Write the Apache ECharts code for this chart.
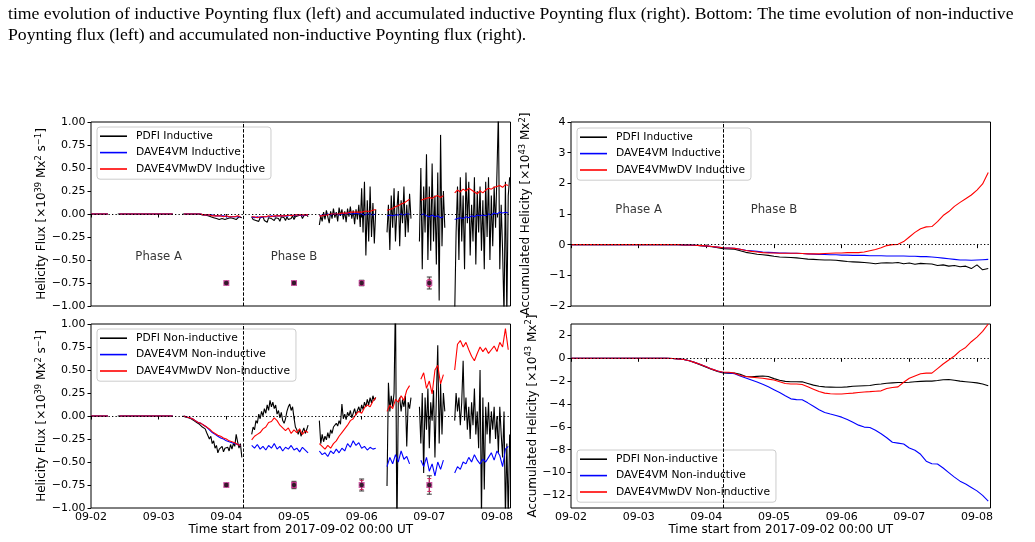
<!DOCTYPE html>
<html>
<head>
<meta charset="utf-8">
<script src="https://cdn.jsdelivr.net/npm/echarts@6/dist/echarts.min.js"></script>
<style>
html, body { margin: 0; padding: 0; background: #fff; }
#main { width: 1035px; height: 542px; }
</style>
</head>
<body>
<div id="main"></div>
<script>
// time is in hours from 2017-09-02 00:00 UT, x axes in days
const dayTicks = [0, 1, 2, 3, 4, 5, 6];
const dayLabels = ['09-02', '09-03', '09-04', '09-05', '09-06', '09-07', '09-08'];
const phaseBoundary = 2.25; // 09-04 06:00
const accIndTicks = [-2, -1, 0, 1, 2, 3, 4];
const accNonTicks = [-12, -10, -8, -6, -4, -2, 0, 2];

// start hour of each data segment (gaps between them)
const halfStarts = [0, 9.5, 32.5, 57, 81, 105, 116.5, 129];   // 30 min cadence (PDFI)
const hourStarts = [0, 10, 33, 57, 81, 105, 117, 129];        // 1 h cadence (DAVE4VM*)

// ---- top left: inductive helicity flux ----
const pdfiInd = [
  [0,0,0,0,0,0,0,0,0,0,0,0,0],
  [0,0,0,0,0,0,0,0,0,0,0,0,0,0,0,0,0,0,0,0,0,0,0,0,0,0,0,0,0,0,0,0,0,0,0,0,0,0,0,0],
  [0,0,0,0,0,0,0,0,0,-0.01,0,-0.01,0,-0.01,-0.01,0,-0.01,-0.01,-0.02,-0.01,
   -0.03,-0.02,-0.04,-0.03,-0.05,-0.03,-0.06,-0.04,-0.05,-0.03,-0.06,-0.04,-0.05,-0.07,-0.04,-0.06,-0.05,-0.04,-0.06,-0.05,-0.03,-0.05,-0.04],
  [-0.03,-0.06,-0.04,-0.07,-0.05,-0.08,-0.04,-0.06,-0.03,-0.07,-0.05,-0.09,-0.04,-0.06,-0.05,-0.03,-0.07,-0.04,-0.06,-0.05,
   -0.08,-0.03,-0.05,-0.04,-0.07,-0.03,-0.06,-0.04,-0.05,-0.02,-0.06,-0.03,-0.05,-0.02,-0.04,-0.01,-0.05,-0.02,-0.04,-0.01,-0.03],
  [-0.12,-0.02,-0.08,0.02,-0.06,0.04,-0.03,-0.1,0.03,-0.05,0.06,-0.04,0.02,-0.08,0.07,-0.02,0.05,-0.06,0.03,-0.09,
   0.06,-0.03,0.08,-0.05,0.04,-0.11,0.05,-0.06,0.1,-0.14,0.28,-0.2,0.35,-0.45,0.15,-0.3,0.3,-0.25,0.12,-0.32,0.05],
  [-0.2,0.1,-0.39,0.2,-0.15,0.28,-0.3,0.05,0.25,-0.35,0.15,-0.1,0.3,-0.25,0.1,-0.2,0.22,-0.05],
  [-0.3,0.5,-0.6,0.3,-0.2,0.65,-0.5,0.3,-0.4,0.55,-0.3,0.2,-0.55,0.45,-0.94,0.86,-0.35,0.25,-0.15],
  [-1.1,-0.2,0.3,-0.5,0.4,-0.3,0.2,-0.6,0.45,-0.1,0.35,-0.45,0.1,-0.3,0.4,-0.55,0.25,-0.2,0.3,-0.4,
   0.15,-0.6,0.35,-0.25,0.4,-0.5,0.2,-0.35,0.3,-0.15,0.45,1.1,-0.6,0.1,-0.4,-1.1,0.35,-1.1,0.2,0.4]
];
const daveInd = [
  [0,0,0,0,0,0,0],
  [0,0,0,0,0,0,0,0,0,0,0,0,0,0,0,0,0,0,0,0],
  [0,0,0,0,0,0,0,-0.01,-0.01,-0.01,-0.01,-0.02,-0.02,-0.02,-0.02,-0.03,-0.03,-0.03,-0.03,-0.03,-0.03],
  [-0.03,-0.04,-0.03,-0.04,-0.03,-0.03,-0.03,-0.02,-0.03,-0.02,-0.02,-0.02,-0.02,-0.02,-0.01,-0.02,-0.01,-0.01,-0.02,-0.01,-0.01],
  [-0.02,-0.01,-0.01,0,-0.01,0,0,-0.01,0,0,0.01,0,0,0.01,0,0,-0.01,0,0,-0.01,0],
  [-0.02,-0.01,-0.02,-0.01,-0.01,0,-0.01,0,0],
  [-0.01,0,-0.02,-0.03,-0.01,-0.03,-0.02,-0.04,-0.03],
  [-0.06,-0.05,-0.04,-0.05,-0.03,-0.04,-0.02,-0.03,-0.01,-0.02,-0.01,-0.02,0,-0.01,0.01,0,0.02,0.01,0.02,0.01]
];
const dvInd = [
  [0,0,0,0,0,0,0],
  [0,0,0,0,0,0,0,0,0,0,0,0,0,0,0,0,0,0,0,0],
  [0,0,0,0,0,0,0,-0.01,-0.01,-0.01,-0.02,-0.02,-0.02,-0.02,-0.03,-0.02,-0.03,-0.03,-0.03,-0.02,-0.03],
  [-0.03,-0.03,-0.04,-0.03,-0.03,-0.03,-0.02,-0.03,-0.02,-0.02,-0.02,-0.02,-0.02,-0.01,-0.02,-0.01,-0.01,-0.01,-0.01,-0.01,-0.01],
  [-0.02,-0.02,-0.01,-0.01,0,0,0,0,0.01,0.01,0.01,0.02,0.02,0.02,0.02,0.02,0.03,0.03,0.03,0.04,0.05],
  [0.04,0.05,0.06,0.08,0.09,0.11,0.12,0.14,0.16],
  [0.15,0.16,0.17,0.18,0.17,0.19,0.2,0.18,0.2],
  [0.23,0.26,0.24,0.27,0.25,0.28,0.26,0.24,0.22,0.25,0.23,0.26,0.28,0.27,0.29,0.3,0.31,0.29,0.32,0.31]
];

// ---- bottom left: non-inductive helicity flux ----
const pdfiNon = [
  [0,0,0,0,0,0,0,0,0,0,0,0,0],
  [0,0,0,0,0,0,0,0,0,0,0,0,0,0,0,0,0,0,0,0,0,0,0,0,0,0,0,0,0,0,0,0,0,0,0,0,0,0,0,0],
  [0,0,-0.01,-0.02,-0.02,-0.03,-0.03,-0.04,-0.05,-0.06,-0.07,-0.06,-0.09,-0.1,-0.12,-0.11,
   -0.14,-0.18,-0.2,-0.25,-0.22,-0.3,-0.27,-0.35,-0.32,-0.4,-0.36,-0.38,-0.33,-0.39,-0.35,-0.37,
   -0.34,-0.38,-0.31,-0.36,-0.3,-0.33,-0.2,-0.28,-0.35,-0.3,-0.45],
  [-0.2,-0.12,-0.15,-0.05,-0.08,0.02,-0.03,0.05,0,0.08,0.03,0.12,0.06,0.17,0.1,0.15,
   0.08,0.12,0.02,0.06,-0.02,0.04,-0.05,-0.08,-0.03,0.05,0.1,0.13,0.06,0.1,-0.02,-0.12,
   -0.15,-0.2,-0.14,-0.22,-0.17,-0.13,-0.19,-0.15,-0.1],
  [-0.05,-0.3,-0.2,-0.28,-0.22,-0.26,-0.18,-0.24,-0.15,-0.19,-0.12,-0.14,-0.08,-0.11,-0.05,-0.09,
   0.13,-0.03,0.02,-0.04,0.04,0,0.06,-0.02,0.03,0.08,0.01,0.06,0.1,0.04,0.12,0.07,
   0.15,0.1,0.18,0.12,0.2,0.14,0.22,0.17,0.2],
  [-0.76,0.36,0.05,0.22,0.1,0.25,1.3,-1.3,0.15,0.2,0.05,0.18,0.1,0.22,-0.33,0.15,0.08,0.2],
  [0.1,-0.3,0.25,-0.62,0.2,-0.15,0.3,-0.35,0.15,-0.05,0.28,-0.45,0.2,0.77,-0.3,0.35,-0.2,0.25,0.05],
  [-0.05,0.25,0.05,0.2,-0.1,0.15,0.6,-0.05,0.2,-0.15,0.1,-0.25,0.15,-0.1,0.3,-0.2,0.05,-0.35,0.5,-1.1,
   0.2,-0.8,0.1,-0.2,0.15,-0.3,0.05,-0.15,0.1,-0.25,0,-0.4,0.1,-0.2,-0.45,0.05,-1.1,-0.3,-1.1,-0.2]
];
const daveNon = [
  [0,0,0,0,0,0,0],
  [0,0,0,0,0,0,0,0,0,0,0,0,0,0,0,0,0,0,0,0],
  [0,-0.01,-0.02,-0.03,-0.05,-0.07,-0.08,-0.1,-0.12,-0.15,-0.18,-0.2,-0.22,-0.24,-0.25,-0.27,-0.28,-0.29,-0.3,-0.31,-0.32],
  [-0.32,-0.35,-0.31,-0.36,-0.33,-0.37,-0.32,-0.35,-0.3,-0.36,-0.33,-0.38,-0.34,-0.36,-0.32,-0.37,-0.35,-0.39,-0.34,-0.37,-0.4],
  [-0.38,-0.42,-0.4,-0.44,-0.38,-0.41,-0.36,-0.4,-0.35,-0.38,-0.3,-0.34,-0.27,-0.32,-0.29,-0.35,-0.33,-0.37,-0.34,-0.36,-0.35],
  [-0.55,-0.45,-0.52,-0.42,-0.5,-0.38,-0.47,-0.44,-0.52],
  [-0.48,-0.55,-0.45,-0.6,-0.52,-0.65,-0.5,-0.58,-0.48],
  [-0.62,-0.55,-0.58,-0.5,-0.52,-0.45,-0.5,-0.42,-0.48,-0.52,-0.47,-0.5,-0.45,-0.4,-0.48,-0.38,-0.43,-0.55,-0.36,-0.33]
];
const dvNon = [
  [0,0,0,0,0,0,0],
  [0,0,0,0,0,0,0,0,0,0,0,0,0,0,0,0,0,0,0,0],
  [0,-0.01,-0.02,-0.03,-0.05,-0.07,-0.08,-0.1,-0.12,-0.14,-0.17,-0.19,-0.21,-0.22,-0.24,-0.25,-0.27,-0.28,-0.29,-0.31,-0.32],
  [-0.26,-0.22,-0.2,-0.18,-0.14,-0.12,-0.07,-0.06,-0.02,-0.05,-0.1,-0.13,-0.16,-0.13,-0.19,-0.15,-0.18,-0.14,-0.2,-0.16,-0.18],
  [-0.3,-0.33,-0.36,-0.32,-0.35,-0.3,-0.27,-0.22,-0.18,-0.14,-0.1,-0.05,-0.03,0.02,0.05,0.03,0.09,0.12,0.1,0.16,0.2],
  [0.05,0.12,0.08,0.18,0.15,0.22,0.17,0.28,0.33],
  [0.4,0.47,0.3,0.38,0.24,0.5,0.55,0.35,0.45],
  [0.5,0.78,0.82,0.75,0.8,0.72,0.65,0.6,0.68,0.75,0.7,0.74,0.68,0.72,0.76,0.7,0.8,0.75,0.95,0.72]
];

// uncertainty markers at -0.75
const errDays = [2, 3, 4, 5];
const errLevel = [-0.75, -0.75, -0.75, -0.75];
const errPdfiInd = [0.01, 0.015, 0.03, 0.065];
const errDvInd = [0.005, 0.01, 0.02, 0.04];
const errPdfiNon = [0.015, 0.04, 0.065, 0.1];
const errDvNon = [0.01, 0.03, 0.05, 0.07];

// ---- right panels: accumulated helicity, 2 h steps from 0 to 148 h ----
const accStep = 2;
const accPdfiInd = [0,0,0,0,0,0,0,0,0,0,0,0,0,0,0,0,0,0,0,0,-0.01,
  -0.01,-0.02,-0.03,-0.05,-0.07,-0.1,-0.13,-0.14,-0.15,-0.2,
  -0.25,-0.28,-0.31,-0.33,-0.35,-0.38,-0.4,-0.41,-0.42,-0.43,
  -0.45,-0.47,-0.48,-0.49,-0.5,-0.5,-0.51,-0.53,-0.55,-0.56,
  -0.57,-0.58,-0.6,-0.62,-0.6,-0.59,-0.6,-0.58,-0.62,-0.6,
  -0.64,-0.61,-0.62,-0.63,-0.68,-0.66,-0.7,-0.68,-0.72,-0.7,
  -0.78,-0.66,-0.82,-0.78];
const accDaveInd = [0,0,0,0,0,0,0,0,0,0,0,0,0,0,0,0,0,0,0,0,-0.01,
  -0.01,-0.02,-0.03,-0.04,-0.06,-0.08,-0.1,-0.11,-0.12,-0.15,
  -0.18,-0.2,-0.22,-0.24,-0.25,-0.26,-0.27,-0.27,-0.28,-0.28,
  -0.29,-0.3,-0.31,-0.32,-0.32,-0.33,-0.33,-0.34,-0.34,-0.35,
  -0.35,-0.35,-0.36,-0.36,-0.36,-0.37,-0.37,-0.37,-0.37,-0.38,
  -0.38,-0.39,-0.39,-0.4,-0.42,-0.44,-0.46,-0.48,-0.5,-0.5,
  -0.51,-0.5,-0.49,-0.48];
const accDvInd = [0,0,0,0,0,0,0,0,0,0,0,0,0,0,0,0,0,0,0,0,-0.01,
  -0.01,-0.02,-0.03,-0.04,-0.06,-0.08,-0.1,-0.11,-0.12,-0.15,
  -0.19,-0.22,-0.24,-0.26,-0.27,-0.27,-0.28,-0.28,-0.28,-0.28,
  -0.29,-0.3,-0.3,-0.3,-0.29,-0.28,-0.27,-0.27,-0.26,-0.26,
  -0.26,-0.24,-0.2,-0.16,-0.1,-0.03,0,0.01,0.1,0.25,
  0.4,0.52,0.58,0.59,0.75,0.95,1.08,1.25,1.38,1.5,
  1.62,1.78,1.98,2.35];
const accPdfiNon = [0,0,0,0,0,0,0,0,0,0,0,0,0,0,0,0,0,0,
  -0.02,-0.05,-0.1,-0.22,-0.38,-0.58,-0.78,-0.98,-1.15,-1.28,
  -1.3,-1.3,-1.4,-1.6,-1.62,-1.58,-1.55,-1.6,-1.78,-1.92,
  -2.02,-2.05,-2.05,-2.06,-2.2,-2.35,-2.45,-2.5,-2.52,-2.54,
  -2.53,-2.5,-2.45,-2.42,-2.4,-2.38,-2.3,-2.25,-2.18,-2.15,
  -2.12,-2.12,-2.1,-2.05,-2.02,-2.0,-2.0,-1.95,-1.88,-1.85,
  -1.92,-2.0,-2.05,-2.1,-2.15,-2.25,-2.4];
const accDaveNon = [0,0,0,0,0,0,0,0,0,0,0,0,0,0,0,0,0,0,
  -0.02,-0.05,-0.1,-0.22,-0.38,-0.55,-0.75,-0.95,-1.12,-1.25,
  -1.28,-1.35,-1.55,-1.72,-1.9,-2.08,-2.28,-2.5,-2.75,-3.0,
  -3.28,-3.55,-3.62,-3.63,-3.9,-4.2,-4.5,-4.75,-4.88,-5.0,
  -5.15,-5.35,-5.6,-5.85,-6.02,-6.05,-6.3,-6.6,-6.95,-7.35,
  -7.42,-7.5,-7.85,-8.05,-8.4,-9.0,-9.23,-9.25,-9.6,-10.0,
  -10.4,-10.75,-11.0,-11.3,-11.6,-12.0,-12.5];
const accDvNon = [0,0,0,0,0,0,0,0,0,0,0,0,0,0,0,0,0,0,
  -0.02,-0.05,-0.1,-0.22,-0.38,-0.55,-0.75,-0.95,-1.12,-1.22,
  -1.22,-1.3,-1.5,-1.6,-1.65,-1.7,-1.75,-1.82,-1.9,-2.05,
  -2.2,-2.25,-2.25,-2.3,-2.5,-2.7,-2.9,-3.05,-3.1,-3.12,
  -3.12,-3.08,-3.05,-3.0,-2.95,-2.92,-2.88,-2.85,-2.65,-2.55,
  -2.5,-2.1,-1.75,-1.55,-1.35,-1.3,-1.3,-0.9,-0.5,-0.15,
  0.2,0.65,0.95,1.45,1.85,2.35,3.0];

const caption1 = 'time evolution of inductive Poynting flux (left) and accumulated inductive Poynting flux (right). Bottom: The time evolution of non-inductive';
const caption2 = 'Poynting flux (left) and accumulated non-inductive Poynting flux (right).';

// ---------------------------------------------------------------
const FONT = 'DejaVu Sans';
const BLACK = '#000000', BLUE = '#0000ff', RED = '#ff0000';

function segData(segs, starts, step) {
  const out = [];
  segs.forEach(function (vals, s) {
    if (s > 0) out.push([(starts[s] - step) / 24, '-']);
    vals.forEach(function (v, k) { out.push([(starts[s] + k * step) / 24, v]); });
  });
  return out;
}
function evenData(vals, step) {
  return vals.map(function (v, i) { return [i * step / 24, v]; });
}
function minus(v) { return String(v).replace('-', '\u2212'); }

const grids = [
  { left: 91, top: 122, width: 419.5, height: 184 },
  { left: 91, top: 324, width: 419.5, height: 184 },
  { left: 571, top: 122, width: 419.5, height: 184 },
  { left: 571, top: 324, width: 419.5, height: 184 }
].map(function (g) {
  return Object.assign({ show: true, borderColor: '#000', borderWidth: 1, backgroundColor: 'transparent' }, g);
});

function xAxis(i, labels) {
  return {
    type: 'value', gridIndex: i, min: 0, max: 6.2,
    axisLine: { show: false }, splitLine: { show: false },
    axisTick: { show: true, length: 3.5, customValues: dayTicks, lineStyle: { color: '#000', width: 1 } },
    axisLabel: {
      show: labels, customValues: dayTicks, color: '#000', fontFamily: FONT, fontSize: 11, margin: 4,
      formatter: function (v) { return dayLabels[Math.round(v)] || ''; }
    },
    name: labels ? 'Time start from 2017-09-02 00:00 UT' : '',
    nameLocation: 'middle', nameGap: 16,
    nameTextStyle: { color: '#000', fontFamily: FONT, fontSize: 12 }
  };
}

const nameRich = {
  n: { fontFamily: FONT, fontSize: 12, color: '#000', lineHeight: 15 },
  s: { fontFamily: FONT, fontSize: 8.4, color: '#000', lineHeight: 9, verticalAlign: 'top' }
};
const fluxName = '{n|Helicity Flux [\u00d710}{s|39}{n| Mx}{s|2}{n| s}{s|\u22121}{n|]}';
const accName = '{n|Accumulated Helicity [\u00d710}{s|43}{n| Mx}{s|2}{n|]}';

function yAxis(i, min, max, ticks, fmt, name, gap) {
  return {
    type: 'value', gridIndex: i, min: min, max: max,
    axisLine: { show: false }, splitLine: { show: false },
    axisTick: { show: true, length: 3.5, customValues: ticks, lineStyle: { color: '#000', width: 1 } },
    axisLabel: { customValues: ticks, color: '#000', fontFamily: FONT, fontSize: 11, margin: 5.5, formatter: fmt },
    name: name, nameLocation: 'middle', nameRotate: 90, nameGap: gap,
    nameTextStyle: { rich: nameRich }
  };
}
const fluxTicks = [-1, -0.75, -0.5, -0.25, 0, 0.25, 0.5, 0.75, 1];
const fluxFmt = function (v) { return minus(v.toFixed(2)); };
const intFmt = function (v) { return minus(Math.round(v)); };

const guides = {
  silent: true, symbol: 'none', animation: false, label: { show: false },
  data: [
    { yAxis: 0, lineStyle: { type: [1.3, 2.2], color: '#000', width: 1.2 } },
    { xAxis: phaseBoundary, lineStyle: { type: [3.5, 1.6], color: '#000', width: 1 } }
  ]
};

function line(name, i, data, color, withGuides) {
  const s = {
    name: name, type: 'line', xAxisIndex: i, yAxisIndex: i, data: data,
    showSymbol: false, symbol: 'none', connectNulls: false, animation: false,
    lineStyle: { color: color, width: 1.1 }, itemStyle: { color: color }
  };
  if (withGuides) s.markLine = guides;
  return s;
}

function errRender(cap, color) {
  return function (params, api) {
    const x = api.value(0), y = api.value(1), e = api.value(2);
    const a = api.coord([x, y + e]), b = api.coord([x, y - e]);
    const st = { stroke: color, lineWidth: 1 };
    return {
      type: 'group', children: [
        { type: 'line', shape: { x1: a[0], y1: a[1], x2: b[0], y2: b[1] }, style: st },
        { type: 'line', shape: { x1: a[0] - cap, y1: a[1], x2: a[0] + cap, y2: a[1] }, style: st },
        { type: 'line', shape: { x1: b[0] - cap, y1: b[1], x2: b[0] + cap, y2: b[1] }, style: st }
      ]
    };
  };
}
function errSeries(i, errs, cap, color) {
  return {
    type: 'custom', xAxisIndex: i, yAxisIndex: i, silent: true, animation: false, clip: false,
    encode: { x: 0, y: 1 }, renderItem: errRender(cap, color),
    data: errDays.map(function (d, k) { return [d, errLevel[k], errs[k]]; })
  };
}
function markerSeries(i) {
  const pts = errDays.map(function (d, k) { return [d, errLevel[k]]; });
  return [
    { type: 'scatter', xAxisIndex: i, yAxisIndex: i, silent: true, animation: false, symbol: 'rect', symbolSize: 6,
      itemStyle: { color: '#c0308f' }, data: pts },
    { type: 'scatter', xAxisIndex: i, yAxisIndex: i, silent: true, animation: false, symbol: 'circle', symbolSize: 4.5,
      itemStyle: { color: '#111' }, data: pts }
  ];
}
function phaseLabels(i, y) {
  return {
    type: 'scatter', xAxisIndex: i, yAxisIndex: i, silent: true, animation: false, symbolSize: 1,
    itemStyle: { color: 'transparent' },
    label: { show: true, position: 'inside', formatter: '{b}', color: '#000', fontFamily: FONT, fontSize: 11.7 },
    data: [{ name: 'Phase A', value: [1.0, y] }, { name: 'Phase B', value: [3.0, y] }]
  };
}

function legend(left, top, names) {
  return {
    left: left, top: top, orient: 'vertical', data: names, selectedMode: false,
    icon: 'rect', itemWidth: 27, itemHeight: 1.6, itemGap: 0,
    padding: [1, 6, 2, 3], backgroundColor: 'rgba(255,255,255,0.85)',
    borderColor: '#cccccc', borderWidth: 1, borderRadius: 3,
    textStyle: { color: '#000', fontFamily: FONT, fontSize: 10.7, lineHeight: 16.4, padding: [0, 0, 0, 4] }
  };
}

const indNames = ['PDFI Inductive', 'DAVE4VM Inductive', 'DAVE4VMwDV Inductive'];
const nonNames = ['PDFI Non-inductive', 'DAVE4VM Non-inductive', 'DAVE4VMwDV Non-inductive'];

const series = [
  line(indNames[0], 0, segData(pdfiInd, halfStarts, 0.5), BLACK, true),
  line(indNames[1], 0, segData(daveInd, hourStarts, 1), BLUE),
  line(indNames[2], 0, segData(dvInd, hourStarts, 1), RED),
  errSeries(0, errPdfiInd, 2.5, '#333'),
  errSeries(0, errDvInd, 2, '#d02060'),
  phaseLabels(0, -0.47),

  line(nonNames[0], 1, segData(pdfiNon, halfStarts, 0.5), BLACK, true),
  line(nonNames[1], 1, segData(daveNon, hourStarts, 1), BLUE),
  line(nonNames[2], 1, segData(dvNon, hourStarts, 1), RED),
  errSeries(1, errPdfiNon, 2.5, '#333'),
  errSeries(1, errDvNon, 2, '#d02060'),

  line(indNames[0], 2, evenData(accPdfiInd, accStep), BLACK, true),
  line(indNames[1], 2, evenData(accDaveInd, accStep), BLUE),
  line(indNames[2], 2, evenData(accDvInd, accStep), RED),
  phaseLabels(2, 1.12),

  line(nonNames[0], 3, evenData(accPdfiNon, accStep), BLACK, true),
  line(nonNames[1], 3, evenData(accDaveNon, accStep), BLUE),
  line(nonNames[2], 3, evenData(accDvNon, accStep), RED)
].concat(markerSeries(0), markerSeries(1));

const option = {
  backgroundColor: '#fff',
  animation: false,
  grid: grids,
  xAxis: [xAxis(0, false), xAxis(1, true), xAxis(2, false), xAxis(3, true)],
  yAxis: [
    yAxis(0, -1, 1, fluxTicks, fluxFmt, fluxName, 32.5),
    yAxis(1, -1, 1, fluxTicks, fluxFmt, fluxName, 32.5),
    yAxis(2, -2, 4, accIndTicks, intFmt, accName, 37.5),
    yAxis(3, -13.1, 3, accNonTicks, intFmt, accName, 29.5)
  ],
  legend: [
    legend(97, 127, indNames),
    legend(97, 329, nonNames),
    legend(577, 128, indNames),
    legend(577, 450, nonNames)
  ],
  graphic: [
    { type: 'text', left: 8, top: 5, style: { text: caption1, font: '17.7px "Liberation Serif"', fill: '#000' } },
    { type: 'text', left: 8, top: 26, style: { text: caption2, font: '17.7px "Liberation Serif"', fill: '#000' } }
  ],
  series: series
};

const chart = echarts.init(document.getElementById('main'), null, { renderer: 'canvas' });
chart.setOption(option);
</script>
</body>
</html>
